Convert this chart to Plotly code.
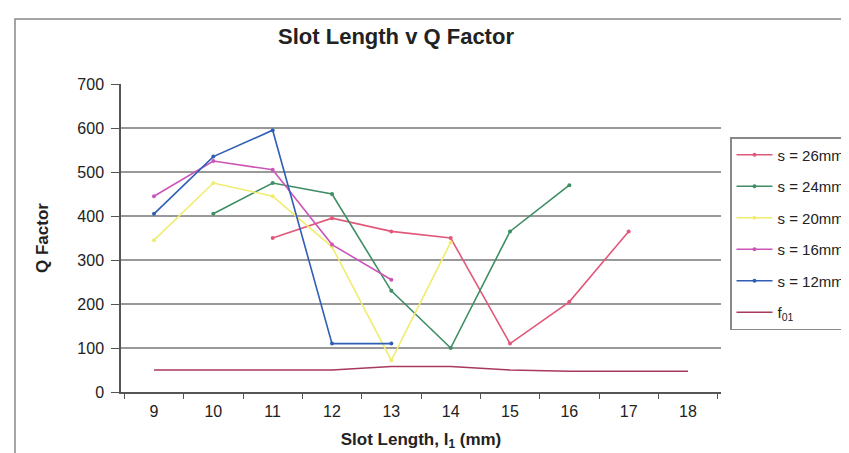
import plotly.graph_objects as go

categories = ["9", "10", "11", "12", "13", "14", "15", "16", "17", "18"]
s26 = [None, None, 350, 395, 365, 350, 110, 205, 365, None]
s24 = [None, 405, 475, 450, 230, 100, 365, 470, None, None]
s20 = [345, 475, 445, 330, 72, 340, None, None, None, None]
s16 = [445, 525, 505, 335, 255, None, None, None, None, None]
s12 = [405, 535, 595, 110, 110, None, None, None, None, None]
f01 = [50, 50, 50, 50, 58, 58, 50, 47, 47, 47]

series = [
    ("s = 26mm", s26, "#E2587A", True),
    ("s = 24mm", s24, "#3E8E64", True),
    ("s = 20mm", s20, "#F0EC6E", True),
    ("s = 16mm", s16, "#CC55B8", True),
    ("s = 12mm", s12, "#2E5FB4", True),
    ("f<sub>01</sub>", f01, "#A8385C", False),
]

fig = go.Figure()
for i, (name, vals, col, mk) in enumerate(series):
    fig.add_trace(go.Scatter(
        x=categories, y=vals, name=name, legendgroup=f"g{i}",
        mode="lines+markers" if mk else "lines",
        line=dict(color=col, width=1.6),
        marker=dict(size=4, color=col, symbol="circle"),
        connectgaps=False,
    ))

L, R, T, B = 113, 136, 76, 69
W, H = 849, 453
pw, ph = W - L - R, H - T - B

def px(x):
    return (x - L) / pw

def py(y):
    return (H - B - y) / ph

fig.update_layout(
    width=W, height=H,
    margin=dict(l=L, r=R, t=T, b=B, autoexpand=False),
    paper_bgcolor="white", plot_bgcolor="white",
    font=dict(family="Liberation Sans, Arial, sans-serif", size=16, color="#222"),
    title=dict(text="<b>Slot Length v Q Factor</b>", x=px(388), xref="paper",
               xanchor="center", y=1 - 28 / H, yanchor="middle",
               font=dict(size=22, color="#222")),
    showlegend=True,
    legend=dict(x=px(722), y=py(129), xanchor="left", yanchor="top",
                xref="paper", yref="paper",
                bordercolor="#888", borderwidth=1.5, bgcolor="white",
                font=dict(size=15, color="#222"), itemwidth=36,
                tracegroupgap=9, traceorder="grouped"),
    xaxis=dict(type="category", categoryorder="array", categoryarray=categories,
               tickson="boundaries", ticks="outside", ticklen=5, tickcolor="#555",
               showline=True, linecolor="#555", linewidth=1.5, showgrid=False,
               zeroline=False, tickfont=dict(size=16), ticklabelstandoff=4,
               title=dict(text="<b>Slot Length, l<sub>1</sub> (mm)</b>", font=dict(size=17), standoff=14)),
    yaxis=dict(range=[0, 700], dtick=100, ticks="outside", ticklen=8, tickcolor="#555",
               showline=True, linecolor="#555", linewidth=1.5,
               showgrid=True, gridcolor="#999", gridwidth=1.5, zeroline=False,
               tickfont=dict(size=16), ticklabelstandoff=4,
               title=dict(text="<b>Q Factor</b>", font=dict(size=17), standoff=24)),
    shapes=[dict(type="rect", xref="paper", yref="paper",
                 x0=px(7), x1=px(870), y0=py(470), y1=py(11),
                 line=dict(color="#888", width=1.5), layer="below")],
)

fig.write_html("out.html")
